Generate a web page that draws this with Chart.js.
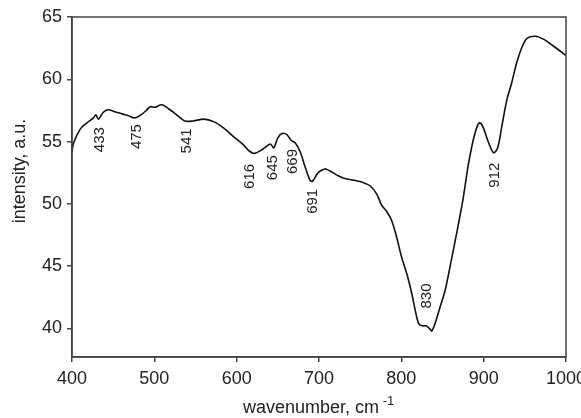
<!DOCTYPE html>
<html>
<head>
<meta charset="utf-8">
<script src="https://cdn.jsdelivr.net/npm/chart.js@4/dist/chart.umd.min.js"></script>
<style>
    html, body { margin: 0; padding: 0; overflow: hidden; background: #fff; }
</style>
</head>
<body>
<canvas id="irChart" width="600" height="418"></canvas>
<script>
// IR spectrum, values
const wavenumbers = [400, 402, 410, 418, 426, 429, 432, 438, 444, 452, 462, 468, 476, 485, 491, 495, 501, 509, 519, 527,
    537, 547, 560, 572, 584, 596, 608, 616, 622, 632, 641, 645, 650, 655, 661, 666, 671, 677, 683, 689,
    692, 699, 707, 713, 722, 730, 742, 754, 762, 770, 776, 782, 788, 794, 800, 807, 813, 817, 821, 825,
    830, 834, 837, 841, 847, 853, 859, 865, 870, 875, 881, 885, 888, 892, 895, 899, 906, 912, 917, 922,
    928, 934, 940, 947, 953, 963, 973, 985, 1000];
const intensity = [54.2, 54.9, 56.0, 56.5, 56.9, 57.15, 56.8, 57.35, 57.55, 57.4, 57.2, 57.1, 56.9, 57.2, 57.55, 57.8, 57.75, 57.95, 57.55, 57.15,
    56.65, 56.65, 56.8, 56.6, 56.1, 55.4, 54.75, 54.2, 54.05, 54.4, 54.8, 54.5, 55.3, 55.65, 55.55, 55.1, 54.9, 54.2, 53.0, 51.9,
    51.8, 52.5, 52.8, 52.65, 52.3, 52.05, 51.9, 51.7, 51.45, 50.8, 49.9, 49.4, 48.7, 47.4, 45.8, 44.3, 42.7, 41.4, 40.4, 40.2,
    40.2, 40.0, 39.8, 40.4, 41.7, 43.0, 44.9, 46.9, 48.6, 50.4, 53.0, 54.4, 55.3, 56.2, 56.5, 56.2, 54.9, 54.1, 54.5, 56.2,
    58.3, 59.7, 61.3, 62.65, 63.3, 63.45, 63.2, 62.65, 61.9];

const xTicks = [400, 500, 600, 700, 800, 900, 1000];
const yTicks = [40, 45, 50, 55, 60, 65];

// band labels: text, wavenumber and intensity where the label sits
const peakLabels = ['433', '475', '541', '616', '645', '669', '691', '830', '912'];
const peakX = [434, 479, 540, 616, 644, 668, 693, 831, 914];
const peakY = [55.15, 55.4, 55.05, 52.2, 52.9, 53.4, 50.2, 42.6, 52.3];

const fontFamily = '"Liberation Sans", Arial, sans-serif';
const inkColor = '#222';
const axisColor = '#444';

const spectrumData = wavenumbers.map((x, i) => ({ x: x, y: intensity[i] }));

// frame, band labels and axis titles
const decorations = {
    id: 'decorations',
    afterDraw(chart) {
        const ctx = chart.ctx;
        const area = chart.chartArea;
        const xs = chart.scales.x;
        const ys = chart.scales.y;

        ctx.save();
        ctx.strokeStyle = axisColor;
        ctx.lineWidth = 1.5;
        ctx.strokeRect(area.left, area.top, area.right - area.left, area.bottom - area.top);

        ctx.fillStyle = inkColor;
        ctx.font = '15px ' + fontFamily;
        ctx.textAlign = 'center';
        ctx.textBaseline = 'middle';
        peakLabels.forEach((label, i) => {
            ctx.save();
            ctx.translate(xs.getPixelForValue(peakX[i]), ys.getPixelForValue(peakY[i]));
            ctx.rotate(-Math.PI / 2);
            ctx.fillText(label, 0, 0);
            ctx.restore();
        });

        // y title
        ctx.save();
        ctx.font = '18px ' + fontFamily;
        ctx.translate(20, 171);
        ctx.rotate(-Math.PI / 2);
        ctx.fillText('intensity, a.u.', 0, 0);
        ctx.restore();

        // x title with superscript
        ctx.font = '18px ' + fontFamily;
        ctx.textAlign = 'left';
        ctx.textBaseline = 'alphabetic';
        const main = 'wavenumber, cm';
        const mainW = ctx.measureText(main).width;
        const startX = 243;
        ctx.fillText(main, startX, 413);
        ctx.font = '13px ' + fontFamily;
        ctx.fillText(' -1', startX + mainW, 405);
        ctx.restore();
    }
};

const tickFont = { family: fontFamily, size: 18 };

new Chart(document.getElementById('irChart'), {
    type: 'line',
    data: {
        datasets: [{
            data: spectrumData,
            borderColor: '#111',
            borderWidth: 1.6,
            pointRadius: 0,
            tension: 0.3,
            fill: false,
        }]
    },
    options: {
        responsive: false,
        animation: false,
        layout: {
            padding: { top: 17, right: 34, left: 0, bottom: 0 }
        },
        plugins: {
            legend: { display: false },
            tooltip: { enabled: false },
        },
        scales: {
            x: {
                type: 'linear',
                min: 400,
                max: 1000,
                afterBuildTicks: (scale) => { scale.ticks = xTicks.map(v => ({ value: v })); },
                afterFit: (scale) => { scale.height = 61; },
                grid: { drawOnChartArea: false, drawTicks: true, tickLength: 5, color: axisColor, lineWidth: 1.5 },
                border: { display: true, color: axisColor, width: 1.5 },
                ticks: { padding: 6, color: inkColor, font: tickFont, maxRotation: 0, callback: (v) => String(v) },
            },
            y: {
                type: 'linear',
                min: 37.7,
                max: 65,
                afterBuildTicks: (scale) => { scale.ticks = yTicks.map(v => ({ value: v })); },
                afterFit: (scale) => { scale.width = 72; },
                grid: { drawOnChartArea: false, drawTicks: true, tickLength: 5, color: axisColor, lineWidth: 1.5 },
                border: { display: true, color: axisColor, width: 1.5 },
                ticks: { padding: 5, color: inkColor, font: tickFont, callback: (v) => String(v) },
            }
        }
    },
    plugins: [decorations]
});
</script>
</body>
</html>
